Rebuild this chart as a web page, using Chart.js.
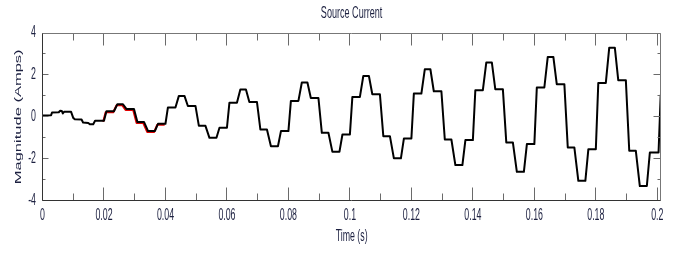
<!DOCTYPE html>
<html><head><meta charset="utf-8">
<script src="https://cdn.jsdelivr.net/npm/chart.js@4.4.1/dist/chart.umd.min.js"></script>
<style>html,body{margin:0;padding:0;background:#fff;}#wrap{width:686px;height:255px;position:relative;}</style>
</head><body><div id="wrap"><canvas id="c"></canvas></div>
<script>
// ---- axis ticks ----
const xTickValues = [0, 0.02, 0.04, 0.06, 0.08, 0.1, 0.12, 0.14, 0.16, 0.18, 0.2];
const xMinorValues = [0.01, 0.03, 0.05, 0.07, 0.09, 0.11, 0.13, 0.15, 0.17, 0.19];
const yTickValues = [-4, -2, 0, 2, 4];
const yMinorValues = [-3, -1, 1, 3];

// ---- source current (A) ----
// start-up transient, first cycle
const startupTimes   = [0, 0.0028, 0.0031, 0.0053, 0.0057, 0.0063, 0.0066, 0.0070, 0.0093, 0.0100, 0.0105, 0.0127, 0.0132, 0.0149, 0.0154, 0.0165, 0.0171, 0.0200];
const startupCurrent = [0.06, 0.08, 0.21, 0.22, 0.29, 0.28, 0.16, 0.24, 0.24, -0.05, -0.11, -0.13, -0.27, -0.29, -0.35, -0.35, -0.19, -0.19];
// later cycles: corner times within each 20 ms cycle
const cycleStarts  = [0.02, 0.04, 0.06, 0.08, 0.10, 0.12, 0.14, 0.16, 0.18];
const cornerPhases = [0.0008, 0.00325, 0.00436, 0.00618, 0.00729, 0.00976, 0.01087, 0.01301, 0.01431, 0.01659, 0.01757, 0.0200];
// step levels of each cycle
const risePlateau    = [0.27, 0.45, 0.67, 0.76, 0.95, 1.11, 1.27, 1.40, 1.62];
const peakCurrent    = [0.60, 1.00, 1.30, 1.64, 1.95, 2.27, 2.59, 2.86, 3.30];
const fallPlateau    = [0.38, 0.52, 0.71, 0.90, 1.08, 1.22, 1.32, 1.56, 1.75];
const dropPlateau    = [-0.24, -0.43, -0.60, -0.76, -0.92, -1.08, -1.22, -1.46, -1.62];
const troughCurrent  = [-0.67, -1.00, -1.40, -1.67, -1.98, -2.30, -2.62, -3.05, -3.30];
const recoverPlateau = [-0.33, -0.52, -0.68, -0.84, -1.03, -1.11, -1.30, -1.54, -1.70];
const tailTimes   = [0.2004, 0.2011];
const tailCurrent = [-1.70, 1.05];
// highlighted (red) stretch
const highlightRange = [0.0199, 0.0401];

// ---- build the point table ----
const points = startupTimes.map((t, i) => ({x: t, y: startupCurrent[i]}));
cycleStarts.forEach((t0, k) => {
  const lv = [risePlateau[k], risePlateau[k], peakCurrent[k], peakCurrent[k], fallPlateau[k], fallPlateau[k],
              dropPlateau[k], dropPlateau[k], troughCurrent[k], troughCurrent[k], recoverPlateau[k], recoverPlateau[k]];
  cornerPhases.forEach((p, j) => points.push({x: +(t0 + p).toFixed(6), y: lv[j]}));
});
tailTimes.forEach((t, i) => points.push({x: t, y: tailCurrent[i]}));
const redPoints = points.filter(p => p.x >= highlightRange[0] && p.x <= highlightRange[1]);

// ---- horizontally condensed text (reference text is squeezed) ----
const SQX = 0.55;
const _fill = CanvasRenderingContext2D.prototype.fillText;
CanvasRenderingContext2D.prototype.fillText = function (text, x, y, maxWidth) {
  const m = this.getTransform();
  const p = m.transformPoint(new DOMPoint(x, y));
  this.save();
  this.setTransform(new DOMMatrix().translate(p.x, p.y).scale(SQX, 1).translate(-p.x, -p.y).multiply(m));
  if (maxWidth === undefined || maxWidth === null) _fill.call(this, text, x, y);
  else _fill.call(this, text, x, y, maxWidth / SQX);
  this.restore();
};

const TXT = '#1c2040';
const FAM = '"Liberation Sans", Arial, sans-serif';

const frameTicks = {
  id: 'frameTicks',
  beforeDatasetDraw(chart, args) {
    if (args.index === 1) { chart.ctx.save(); chart.ctx.translate(-0.8, 1.0); }
  },
  afterDatasetDraw(chart, args) {
    if (args.index === 1) chart.ctx.restore();
  },
  afterDatasetsDraw(chart) {
    const {ctx, chartArea: a, scales: {x, y}} = chart;
    const L = Math.floor(a.left) + 0.5, R = Math.floor(a.right) + 0.5;
    const T = Math.floor(a.top) + 0.5, B = Math.floor(a.bottom) + 0.5;
    ctx.save();
    ctx.lineWidth = 1;
    ctx.strokeStyle = '#6a6a6a';
    ctx.beginPath();
    const seg = (x1, y1, x2, y2) => { ctx.moveTo(x1, y1); ctx.lineTo(x2, y2); };
    xTickValues.forEach(v => { const px = Math.floor(x.getPixelForValue(v)) + 0.5; seg(px, B, px, B - 13); seg(px, T, px, T + 12); });
    xMinorValues.forEach(v => { const px = Math.floor(x.getPixelForValue(v)) + 0.5; seg(px, B, px, B - 7); seg(px, T, px, T + 7); });
    yTickValues.forEach(v => { const py = Math.floor(y.getPixelForValue(v)) + 0.5; seg(L, py, L + 6, py); seg(R, py, R - 7, py); });
    yMinorValues.forEach(v => { const py = Math.floor(y.getPixelForValue(v)) + 0.5; seg(L, py, L + 3, py); seg(R, py, R - 3, py); });
    ctx.stroke();
    ctx.strokeStyle = '#777';
    ctx.beginPath(); seg(L, T, R, T); seg(R, T, R, B); ctx.stroke();
    ctx.strokeStyle = '#333';
    ctx.beginPath(); seg(L, T, L, B); seg(L, B, R, B); ctx.stroke();
    ctx.restore();
  }
};

new Chart(document.getElementById('c'), {
  type: 'line',
  data: {
    datasets: [
      {label: 'Source Current', data: points, borderColor: '#000', borderWidth: 2, pointRadius: 0,
       tension: 0, borderJoinStyle: 'round', order: 0},
      {label: 'highlight', data: redPoints, borderColor: '#e00000', borderWidth: 2, pointRadius: 0,
       tension: 0, borderJoinStyle: 'round', order: 1}
    ]
  },
  options: {
    responsive: true, maintainAspectRatio: false, animation: false, devicePixelRatio: 1,
    layout: {padding: {left: 0, right: 25.3, top: 0, bottom: 0}},
    plugins: {
      legend: {display: false}, tooltip: {enabled: false},
      title: {display: true, text: 'Source Current', fullSize: false, color: TXT,
              font: {family: FAM, size: 16.5, weight: 'normal'}, padding: {top: 3.5, bottom: 9.7}}
    },
    scales: {
      x: {
        type: 'linear', min: 0, max: 0.2011,
        grid: {display: false, drawTicks: false}, border: {display: false},
        afterBuildTicks: s => { s.ticks = xTickValues.map(v => ({value: v})); },
        afterFit: s => { s.height = 54.3; },
        ticks: {autoSkip: false, maxRotation: 0, minRotation: 0, includeBounds: false, padding: 5.5, color: TXT,
                font: {family: FAM, size: 16}, callback: v => String(+(+v).toFixed(3))},
        title: {display: true, text: 'Time (s)', color: TXT, font: {family: FAM, size: 16}, padding: {top: 0, bottom: 9.1}}
      },
      y: {
        type: 'linear', min: -4, max: 4,
        grid: {display: false, drawTicks: false}, border: {display: false},
        afterBuildTicks: s => { s.ticks = yTickValues.map(v => ({value: v})); },
        afterFit: s => { s.width = 42.5; },
        ticks: {autoSkip: false, padding: 6.5, color: TXT, font: {family: FAM, size: 16}, callback: v => String(v)},
        title: {display: true, text: 'Magnitude (Amps)', color: TXT, font: {family: FAM, size: 16.5}, padding: {top: 8.8, bottom: 0}}
      }
    }
  },
  plugins: [frameTicks]
});
</script></body></html>
